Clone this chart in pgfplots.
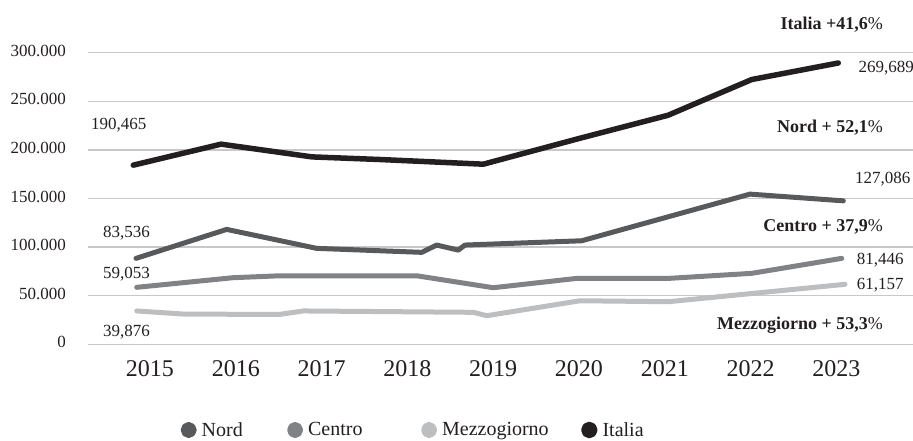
\documentclass[border=0pt]{standalone}
\usepackage{fontspec}
\setmainfont{Liberation Serif}
\usepackage{pgfplots}
\pgfplotsset{compat=1.18}
\definecolor{cIt}{HTML}{231F20}
\definecolor{cNo}{HTML}{58595B}
\definecolor{cCe}{HTML}{808285}
\definecolor{cMe}{HTML}{BCBEC0}
\definecolor{cGr}{HTML}{C8C8C8}
\definecolor{cTx}{HTML}{231F20}
\begin{document}
\begin{tikzpicture}
\begin{axis}[
  at={(88pt,96.7pt)}, anchor=south west,
  scale only axis, width=825pt, height=291.6pt,
  xmin=2014.2774, xmax=2023.893, ymin=0, ymax=300,
  clip=false,
  axis line style={draw=none},
  major tick length=0pt,
  xtick={2015,2016,2017,2018,2019,2020,2021,2022,2023},
  xticklabels={2015,2016,2017,2018,2019,2020,2021,2022,2023},
  ytick={0,50,100,150,200,250,300},
  yticklabels={0,50.000,100.000,150.000,200.000,250.000,300.000},
  ymajorgrids,
  grid style={cGr, line width=1.4pt},
  /pgf/number format/assume math mode=true,
  xticklabel style={font=\fontsize{24}{28}\selectfont, text=cTx, anchor=north, inner sep=0pt, yshift=-16pt},
  yticklabel style={font=\fontsize{17}{20}\selectfont, text=cTx, anchor=east, inner sep=0pt, xshift=-22pt, yshift=2pt},
  legend columns=4,
  legend style={draw=none, fill=none, inner sep=0pt, at={(0.1121,-0.2939)}, anchor=west,
    font=\fontsize{20}{24}\selectfont, text=cTx,
    /tikz/every even column/.append style={column sep=0pt}},
  legend image code/.code={\fill[#1] (0pt,0pt) circle (5.5pt);},
  every axis plot/.append style={line join=round, line cap=round},
]
\addplot[cNo, line width=5pt] coordinates {
 (2014.837,88.4) (2015.894,118.2) (2016.943,98.7) (2018.167,94.6) (2018.341,102.1)
 (2018.593,96.9) (2018.671,102.1) (2020.031,106.5) (2021.993,154.5) (2023.080,147.6)};
\addlegendentry{\makebox[86.4pt][l]{\hspace{3pt}Nord}}
\addplot[cCe, line width=5pt] coordinates {
 (2014.845,58.6) (2015.967,68.5) (2016.515,70.5) (2018.108,70.5) (2019.001,58.2)
 (2019.973,67.8) (2021.041,67.8) (2022.013,73.0) (2023.062,88.4)};
\addlegendentry{\makebox[114pt][l]{\hspace{3pt}Centro}}
\addplot[cMe, line width=5pt] coordinates {
 (2014.845,34.3) (2015.408,31.0) (2016.515,30.8) (2016.787,34.3) (2018.768,32.9)
 (2018.924,29.4) (2020.012,44.8) (2021.041,43.8) (2023.100,61.7)};
\addlegendentry{\makebox[140pt][l]{\hspace{3pt}Mezzogiorno}}
\addplot[cIt, line width=5.5pt] coordinates {
 (2014.805,184.3) (2015.828,205.9) (2016.888,192.8) (2017.681,190.1) (2018.885,185.3)
 (2020.012,212.0) (2021.037,235.6) (2022.013,272.4) (2023.022,289.4)};
\addlegendentry{\hspace{3pt}Italia}
\end{axis}
\begin{scope}[every node/.style={text=cTx, inner sep=0pt}]
\node[anchor=base east, font=\fontsize{18}{22}\selectfont\bfseries] at (883pt,411pt) {Italia +41,6{\mdseries\%}};
\node[anchor=base east, font=\fontsize{18}{22}\selectfont\bfseries] at (883pt,308.3pt) {Nord + 52,1{\mdseries\%}};
\node[anchor=base east, font=\fontsize{18}{22}\selectfont\bfseries] at (883pt,209.3pt) {Centro + 37,9{\mdseries\%}};
\node[anchor=base east, font=\fontsize{18}{22}\selectfont\bfseries] at (883pt,111pt) {Mezzogiorno + 53,3{\mdseries\%}};
\node[anchor=base west, font=\fontsize{17}{20}\selectfont] at (91pt,311pt) {190,465};
\node[anchor=base west, font=\fontsize{17}{20}\selectfont] at (103pt,203.3pt) {83,536};
\node[anchor=base west, font=\fontsize{17}{20}\selectfont] at (103pt,162.7pt) {59,053};
\node[anchor=base west, font=\fontsize{17}{20}\selectfont] at (103pt,104.3pt) {39,876};
\node[anchor=base west, font=\fontsize{17}{20}\selectfont] at (858.3pt,368.3pt) {269,689};
\node[anchor=base west, font=\fontsize{17}{20}\selectfont] at (855pt,257.7pt) {127,086};
\node[anchor=base west, font=\fontsize{17}{20}\selectfont] at (856.7pt,176pt) {81,446};
\node[anchor=base west, font=\fontsize{17}{20}\selectfont] at (856.7pt,151pt) {61,157};
\end{scope}
\pgfresetboundingbox
\path (0pt,0pt) rectangle (913pt,441pt);
\end{tikzpicture}
\end{document}
